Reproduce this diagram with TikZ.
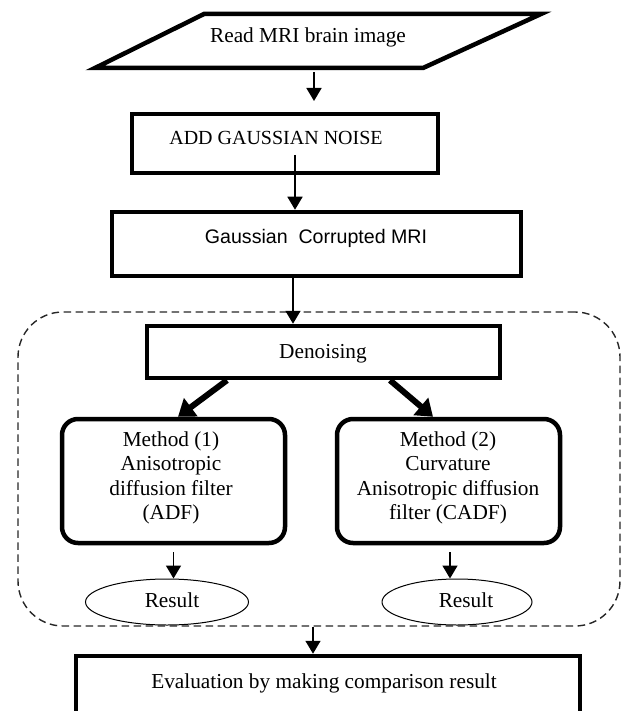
\documentclass[tikz,border=0pt]{standalone}
\usepackage{fontspec}
\setmainfont{Liberation Serif}
\newfontfamily\arialf{Liberation Sans}
\usetikzlibrary{arrows.meta,shapes.geometric}
\begin{document}
\begin{tikzpicture}[x=1pt,y=-1pt,
  thickbox/.style={draw, line width=4.5pt, inner sep=0pt},
  arr/.style={line width=1.6pt, -{Triangle[length=13pt,width=15pt]}},
  bigarr/.style={line width=6pt, -{Triangle[length=16pt,width=22pt]}},
  txt/.style={font=\fontsize{21.3}{24.4}\selectfont, inner sep=0pt, align=center},
  grpbox/.style={draw=black!85, line width=1.4pt, dash pattern=on 7.5pt off 4.5pt, rounded corners=45pt, inner sep=0pt},
  resbox/.style={draw, ellipse, line width=1pt, inner sep=0pt}]
\useasboundingbox (0,0) rectangle (623,711);
\clip (0,0) rectangle (623,711);

% input parallelogram
\draw[line width=4.5pt, line join=miter] (204,14) -- (541,14) -- (423,68) -- (95,68) -- cycle;
\node[txt, anchor=base] (read) at (308,43) {Read MRI brain image};

% boxes
\node[thickbox, minimum width=306pt, minimum height=59pt] (add) at (285,143.5) {};
\node[txt, anchor=base, font=\fontsize{20}{24}\selectfont] (addt) at (276,145) {ADD GAUSSIAN NOISE};

\node[thickbox, minimum width=409pt, minimum height=64pt] (gcm) at (316.5,244) {};
\node[inner sep=0pt, anchor=base, font=\arialf\fontsize{19.6}{23}\selectfont] (gcmt) at (316,243) {Gaussian\hspace{0.55em}Corrupted MRI};

\node[grpbox, minimum width=602pt, minimum height=314pt] (grp) at (319,469) {};

\node[thickbox, minimum width=353pt, minimum height=52pt] (den) at (323.5,352) {};
\node[txt, anchor=base] (dent) at (323,358) {Denoising};

\node[thickbox, rounded corners=16pt, minimum width=223pt, minimum height=124pt] (m1) at (173.5,481) {};
\node[txt] (m1t) at (171,478) {Method (1)\\Anisotropic\\diffusion filter\\(ADF)};

\node[thickbox, rounded corners=16pt, minimum width=223pt, minimum height=124pt] (m2) at (448.5,481) {};
\node[txt] (m2t) at (448,478) {Method (2)\\Curvature\\Anisotropic diffusion\\filter (CADF)};

\node[resbox, minimum width=163pt, minimum height=46pt] (r1) at (167,602) {};
\node[txt, anchor=base] (r1t) at (172,607) {Result};
\node[resbox, minimum width=150pt, minimum height=46pt] (r2) at (457,602) {};
\node[txt, anchor=base] (r2t) at (466,607) {Result};

\node[thickbox, minimum width=504pt, minimum height=60pt] (eval) at (328,686) {};
\node[txt, anchor=base] (evalt) at (324,688) {Evaluation by making comparison result};

% connectors
\coordinate (a1s) at (314,72);
\coordinate (a1e) at (314,101);
\draw[arr] (a1s) -- (a1e);
\coordinate (a2s) at (295,155);
\draw[arr] (a2s) -- (a2s |- gcm.north);
\draw[arr] ([xshift=-23.5pt]gcm.south) -- ([xshift=-30.5pt]den.north);
\draw[bigarr] ([xshift=-96.5pt]den.south) -- ([xshift=4.5pt]m1.north);
\draw[bigarr] ([xshift=66.5pt]den.south) -- ([xshift=-15.5pt]m2.north);
\draw[arr, shorten <=7pt] (m1.south) -- (m1.south |- r1.north);
\draw[arr, shorten <=7pt] ([xshift=1.5pt]m2.south) -- ([xshift=1.5pt]m2.south |- r2.north);
\draw[arr] ([xshift=-6pt]grp.south) -- ([xshift=-15pt]eval.north);
\end{tikzpicture}
\end{document}
